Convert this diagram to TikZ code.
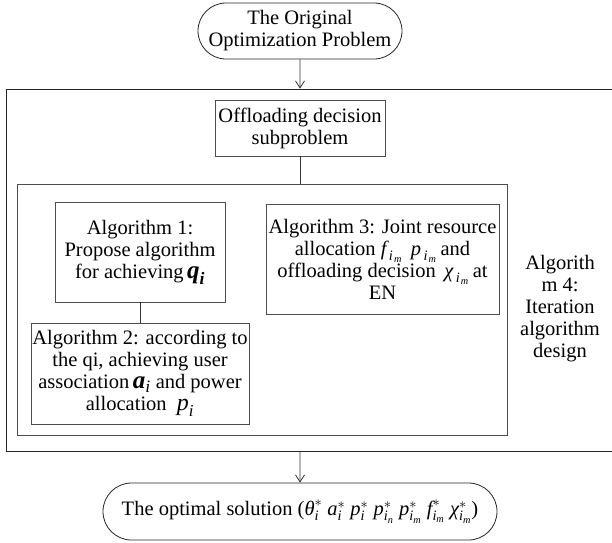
\documentclass[tikz,border=0pt]{standalone}
\usepackage{amsmath}
\usepackage{fontspec}
\setmainfont{Liberation Serif}
\usetikzlibrary{shapes.misc,arrows.meta}
% italic and bold-italic variables set in the text font
\newcommand\mv[1]{\text{\normalfont\itshape #1}}
\newcommand\bv[1]{\text{\normalfont\bfseries\itshape #1}}
% variable with a spaced double-level index i_m
\newcommand\vim[1]{\mv{#1}_{\mkern3mu\mv{i}_{\mkern2mu\mv{m}}}}
\begin{document}
\begin{tikzpicture}[x=1pt,y=-1pt,
  txt/.style={font=\fontsize{20.5}{22}\selectfont, align=center, inner sep=0pt},
  term/.style={txt, draw=black!85, rounded rectangle, line width=0.8pt},
  stepbox/.style={txt, draw=black!70, rectangle, line width=0.8pt},
  frame/.style={draw=black!85, rectangle, line width=0.8pt, inner sep=0pt},
  conn/.style={draw=black!80, line width=0.8pt},
  arr/.style={conn, -{Straight Barb[length=7pt,width=9pt]}}]
\useasboundingbox (0,0) rectangle (612,542);
\fill[white] (0,0) rectangle (612,542);

% start and end terminals
\node[term, minimum width=204pt, minimum height=56pt] (orig) at (300,31)
  {The Original\\Optimization Problem};
\node[term, minimum width=394pt, minimum height=57pt] (sol) at (300,511.5)
  {The optimal solution ($\mv{θ}^{*}_{\mv{i}}$ $\mv{a}^{*}_{\mv{i}}$ $\mv{p}^{*}_{\mv{i}}$ $\mv{p}^{*}_{\mv{i}_{\mv{n}}}$ $\mv{p}^{*}_{\mv{i}_{\mv{m}}}$ $\mv{f}^{*}_{\mv{i}_{\mv{m}}}$ $\mv{χ}^{*}_{\mv{i}_{\mv{m}}}$)};

% iteration frame (open to the right) and the inner frame
\node[frame, minimum width=640pt, minimum height=362pt] (outer) at (326,270) {};
\node[frame, draw=black!70, minimum width=490pt, minimum height=251pt] (inner) at (262,309.5) {};

% sub-problem and algorithm boxes
\node[stepbox, minimum width=170pt, minimum height=56pt] (offload) at (300,128)
  {Offloading decision\\subproblem};
\node[stepbox, minimum width=170pt, minimum height=100pt] (alg1) at (140,252)
  {Algorithm 1:\\Propose algorithm\\for achieving\,{\fontsize{25}{22}\selectfont$\bv{q}_{\bv{i}}$}};
\node[stepbox, minimum width=218pt, minimum height=101pt] (alg2) at (140,373.5)
  {Algorithm 2: according to\\the qi, achieving user\\association\,{\fontsize{25}{22}\selectfont$\bv{a}_{\mv{i}}$} and power\\allocation\ \ {\fontsize{24}{22}\selectfont$\mv{p}_{\mv{i}}$}};
\node[stepbox, minimum width=233pt, minimum height=110pt] (alg3) at (382.5,259)
  {Algorithm 3: Joint resource\\allocation $\vim{f}$\ \,$\vim{p}$\,and\\offloading decision\ \,$\vim{χ}$\,at\\EN};
\node[txt] (alg4) at (560,309)
  {Algorith\\m 4:\\Iteration\\algorithm\\design};

% connectors
\draw[arr] (orig) -- (orig |- outer.north);
\draw[conn] (offload) -- (offload |- inner.north);
\draw[conn] (alg1) -- (alg2);
\draw[arr] (sol |- outer.south) -- (sol);
\end{tikzpicture}
\end{document}
